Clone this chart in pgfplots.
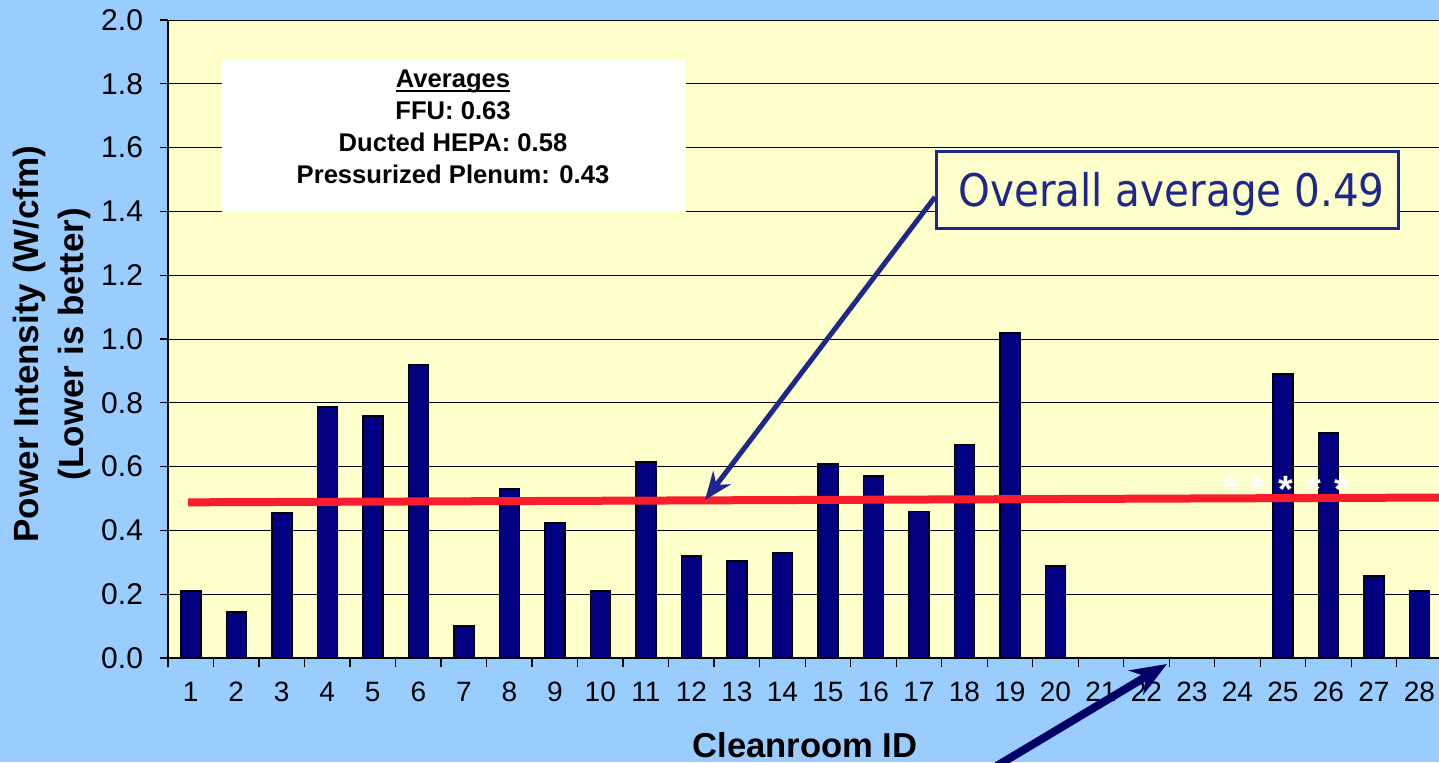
\documentclass[border=0pt]{standalone}
\usepackage{pgfplots}
\pgfplotsset{compat=1.18}
\usepackage{fontspec}
\setmainfont{Liberation Sans}
\newfontfamily\calloutfont{DejaVu Sans Condensed}
\usetikzlibrary{arrows.meta}
\definecolor{bgblue}{RGB}{153,204,255}
\definecolor{plotyellow}{RGB}{255,255,204}
\definecolor{barnavy}{RGB}{0,0,128}
\definecolor{linered}{RGB}{250,30,45}
\definecolor{callnavy}{RGB}{30,40,140}
\definecolor{arrownavy}{RGB}{0,0,102}
\newsavebox\ubox
\newcommand\myul[1]{\sbox\ubox{#1}\rlap{\rule[-2pt]{\wd\ubox}{0.9pt}}\usebox\ubox}
\pgfplotstableread{
x y
1 0.21
2 0.145
3 0.455
4 0.787
5 0.758
6 0.92
7 0.10
8 0.53
9 0.423
10 0.21
11 0.614
12 0.32
13 0.304
14 0.33
15 0.608
16 0.57
17 0.46
18 0.67
19 1.019
20 0.288
25 0.89
26 0.705
27 0.257
28 0.21
}\datatable
\begin{document}
\begin{tikzpicture}[x=0.5pt,y=0.5pt]
\path[use as bounding box] (0,0) rectangle (1439,762);
\fill[bgblue] (0,0) rectangle (1439,762);
\begin{scope}
\clip (0,0) rectangle (1439,762);
\begin{axis}[
  at={(84pt,52pt)}, anchor=south west,
  scale only axis, width=635.5pt, height=319pt,
  xmin=0.5, xmax=28.43, ymin=0, ymax=2.0,
  axis x line*=bottom, axis y line*=left,
  axis line style={black, line width=0.7pt},
  axis background/.style={fill=plotyellow},
  ytick={0,0.2,...,2.01},
  xtick={1,...,28},
  minor xtick={0.5,1.5,...,27.5},
  tick align=outside,
  major tick length=4pt,
  minor tick length=4.5pt,
  major x tick style={draw=none},
  minor x tick style={black, line width=0.6pt},
  major y tick style={black, line width=0.6pt},
  ymajorgrids,
  grid style={black, line width=0.5pt},
  /pgf/number format/assume math mode=true,
  yticklabel style={/pgf/number format/.cd, fixed, fixed zerofill, precision=1, /tikz/.cd, font=\fontsize{15}{18}\selectfont, xshift=-5pt},
  xticklabel style={font=\fontsize{14}{17}\selectfont, yshift=-4.5pt},
  clip=false,
]
\addplot[ybar, bar width=10pt, fill=barnavy, draw=black, line width=0.75pt] table[x=x,y=y] {\datatable};
\addplot[linered, line width=4pt, no marks] coordinates {(0.94,0.488) (28.43,0.503)};
\node[text=white, font=\bfseries\fontsize{19}{20}\selectfont] at (axis cs:25.07,0.53) {*\hspace{6.5pt}*\hspace{6.5pt}*\hspace{6.5pt}*\hspace{6.5pt}*};
\end{axis}
% averages box
\fill[white] (222,702) rectangle (686,550);
\node[anchor=base, align=center, font=\bfseries\fontsize{12.8}{16}\selectfont] at (453,578) {\myul{Averages}\\FFU: 0.63\\Ducted HEPA: 0.58\\Pressurized Plenum: 0.43};
% callout
\draw[callnavy, line width=1.5pt, fill=plotyellow] (936,610) rectangle (1398,534);
\node[anchor=base west, text=callnavy, font=\calloutfont\fontsize{22.5}{26}\selectfont, inner sep=0pt] at (958,555) {Overall average 0.49};
\draw[callnavy, line width=2.5pt, -{Stealth[length=14pt, width=11pt]}] (935,565) -- (705,262);
\draw[arrownavy, line width=4pt, -{Stealth[length=18pt, width=14pt]}] (970,-20) -- (1167,98);
% labels
\node[font=\bfseries\fontsize{17.5}{22.5}\selectfont, align=center, rotate=90] at (52,418) {Power Intensity (W/cfm)\\(Lower is better)};
\node[font=\bfseries\fontsize{17.3}{20}\selectfont] at (805,17) {Cleanroom ID};
\end{scope}
\end{tikzpicture}
\end{document}
